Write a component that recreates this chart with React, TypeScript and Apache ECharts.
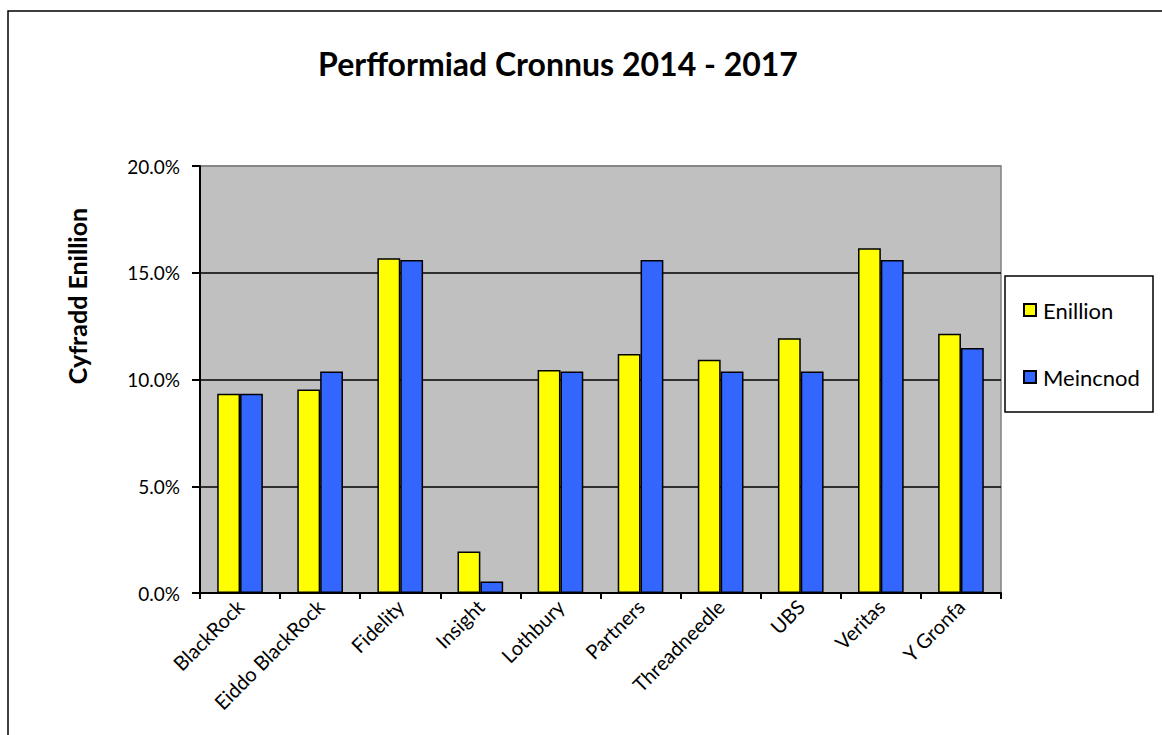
import React, { useEffect, useRef } from "react";
import * as echarts from "echarts";

const categories = [
  "BlackRock",
  "Eiddo BlackRock",
  "Fidelity",
  "Insight",
  "Lothbury",
  "Partners",
  "Threadneedle",
  "UBS",
  "Veritas",
  "Y Gronfa",
];
const enillion = [9.33, 9.53, 15.68, 1.94, 10.45, 11.2, 10.92, 11.93, 16.15, 12.14];
const meincnod = [9.33, 10.37, 15.6, 0.54, 10.37, 15.6, 10.37, 10.37, 15.6, 11.48];
const seriesNames = ["Enillion", "Meincnod"];
const titleText = "Perfformiad Cronnus 2014 - 2017";
const yAxisTitle = "Cyfradd Enillion";

const FONT = "Lato, 'Open Sans', sans-serif";

export default function App() {
  const ref = useRef<HTMLDivElement>(null);
  useEffect(() => {
    document.body.style.margin = "0";
    if (!ref.current) return;
    const chart = echarts.init(ref.current, null, { renderer: "svg" });
    chart.setOption({
      animation: false,
      backgroundColor: "#ffffff",
      textStyle: { fontFamily: FONT, color: "#000" },
      title: {
        text: titleText,
        left: 553,
        textAlign: "center",
        top: 42,
        textStyle: { fontFamily: FONT, fontSize: 32, fontWeight: "bold", color: "#000" },
      },
      graphic: [
        {
          type: "rect",
          shape: { x: 8, y: 11, width: 1200, height: 800 },
          style: { fill: "none", stroke: "#000", lineWidth: 1.5 },
          silent: true,
          z: -1,
        },
        {
          type: "rect",
          shape: { x: 1005, y: 276, width: 148, height: 136 },
          style: { fill: "#fff", stroke: "#000", lineWidth: 1.5 },
          silent: true,
          z: 0,
        },
        {
          type: "text",
          x: 77,
          y: 296,
          rotation: Math.PI / 2,
          style: {
            text: yAxisTitle,
            fontFamily: FONT,
            fontSize: 25,
            fontWeight: "bold",
            fill: "#000",
            align: "center",
            verticalAlign: "middle",
          },
          z: 5,
        },
      ],
      legend: {
        orient: "vertical",
        left: 1018,
        top: 294,
        itemWidth: 12,
        itemHeight: 12,
        itemGap: 45,
        icon: "rect",
        data: seriesNames,
        textStyle: { fontFamily: FONT, fontSize: 22, color: "#000", padding: [0, 0, 0, 2] },
        z: 5,
      },
      grid: {
        left: 200,
        top: 166,
        right: 161,
        bottom: 142,
        show: true,
        backgroundColor: "#c0c0c0",
        borderColor: "#808080",
        borderWidth: 1.5,
      },
      xAxis: {
        type: "category",
        data: categories,
        axisLine: { lineStyle: { color: "#000", width: 2 } },
        axisTick: { show: true, length: 6, interval: 0, lineStyle: { color: "#000", width: 2 } },
        axisLabel: {
          interval: 0,
          rotate: 45,
          margin: 10,
          fontFamily: FONT,
          fontSize: 20,
          color: "#000",
        },
      },
      yAxis: {
        type: "value",
        min: 0,
        max: 20,
        interval: 5,
        axisLine: { show: true, lineStyle: { color: "#000", width: 2 } },
        axisTick: { show: true, length: 8, lineStyle: { color: "#000", width: 2 } },
        axisLabel: {
          formatter: (v: number) => v.toFixed(1) + "%",
          margin: 20,
          fontFamily: FONT,
          fontSize: 19,
          color: "#000",
        },
        splitLine: {
          show: true,
          lineStyle: { color: ["#000", "#000", "#000", "#000", "#808080"], width: 1.5 },
        },
      },
      series: [
        {
          name: seriesNames[0],
          type: "bar",
          data: enillion,
          barGap: "0%",
          barCategoryGap: "43%",
          itemStyle: { color: "#ffff00", borderColor: "#000", borderWidth: 1.5 },
        },
        {
          name: seriesNames[1],
          type: "bar",
          data: meincnod,
          itemStyle: { color: "#3366ff", borderColor: "#000", borderWidth: 1.5 },
        },
      ],
    });
    return () => chart.dispose();
  }, []);
  return <div ref={ref} style={{ width: 1162, height: 735 }} />;
}
